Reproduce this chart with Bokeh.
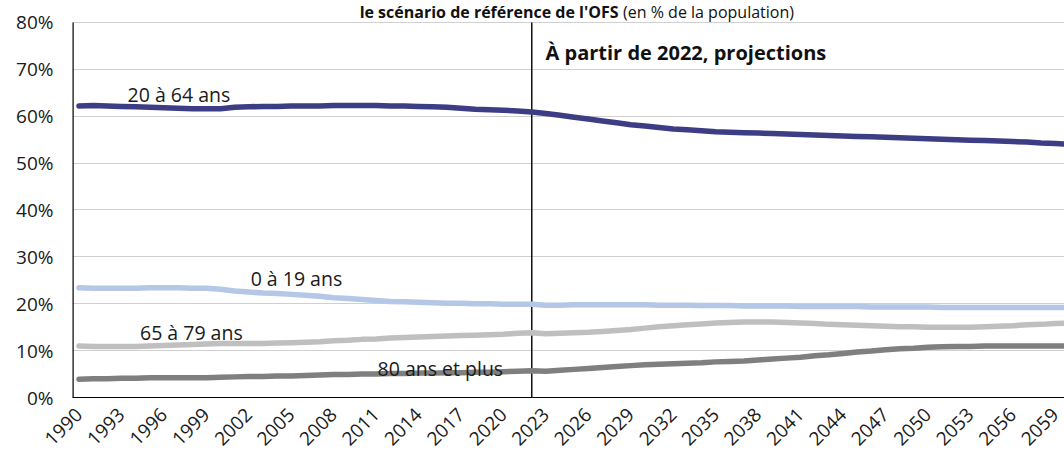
from bokeh.plotting import figure
from bokeh.models import Label, FixedTicker, PrintfTickFormatter, Range1d
from bokeh.embed import file_html
from bokeh.resources import INLINE

# Years 1990-2060 (observed up to 2021, OFS reference scenario afterwards)
years = list(range(1990, 2061))

age_20_64 = [
    62.2, 62.3, 62.2, 62.1, 62.0, 61.9, 61.8, 61.7, 61.6, 61.6,
    61.6, 61.9, 62.0, 62.1, 62.1, 62.2, 62.2, 62.2, 62.3, 62.3,
    62.3, 62.3, 62.2, 62.2, 62.1, 62.0, 61.9, 61.7, 61.5, 61.4,
    61.3, 61.1, 60.9, 60.6, 60.2, 59.8, 59.4, 59.0, 58.6, 58.2,
    57.9, 57.6, 57.3, 57.1, 56.9, 56.7, 56.6, 56.5, 56.4, 56.3,
    56.2, 56.1, 56.0, 55.9, 55.8, 55.7, 55.6, 55.5, 55.4, 55.3,
    55.2, 55.1, 55.0, 54.9, 54.8, 54.7, 54.6, 54.5, 54.3, 54.2,
    54.0,
]
age_0_19 = [
    23.4, 23.3, 23.3, 23.3, 23.3, 23.4, 23.4, 23.4, 23.3, 23.3,
    23.1, 22.7, 22.5, 22.3, 22.2, 22.0, 21.8, 21.6, 21.3, 21.1,
    20.9, 20.7, 20.5, 20.4, 20.3, 20.2, 20.1, 20.1, 20.0, 20.0,
    19.9, 19.9, 19.9, 19.7, 19.7, 19.8, 19.8, 19.8, 19.8, 19.8,
    19.8, 19.7, 19.7, 19.7, 19.6, 19.6, 19.6, 19.5, 19.5, 19.5,
    19.5, 19.4, 19.4, 19.4, 19.4, 19.4, 19.3, 19.3, 19.3, 19.3,
    19.3, 19.2, 19.2, 19.2, 19.2, 19.2, 19.2, 19.2, 19.2, 19.2,
    19.2,
]
age_65_79 = [
    11.0, 10.9, 10.9, 10.9, 10.9, 11.0, 11.1, 11.2, 11.3, 11.4,
    11.5, 11.5, 11.5, 11.5, 11.6, 11.7, 11.8, 11.9, 12.1, 12.2,
    12.4, 12.5, 12.7, 12.8, 12.9, 13.0, 13.1, 13.2, 13.3, 13.4,
    13.5, 13.7, 13.8, 13.6, 13.7, 13.8, 13.9, 14.1, 14.3, 14.5,
    14.8, 15.1, 15.3, 15.5, 15.7, 15.9, 16.0, 16.1, 16.1, 16.1,
    16.0, 15.9, 15.8, 15.6, 15.5, 15.4, 15.3, 15.2, 15.1, 15.1,
    15.0, 15.0, 15.0, 15.0, 15.1, 15.2, 15.3, 15.5, 15.6, 15.8,
    15.9,
]
age_80_plus = [
    3.9, 4.0, 4.0, 4.1, 4.1, 4.2, 4.2, 4.2, 4.2, 4.2,
    4.3, 4.4, 4.5, 4.5, 4.6, 4.6, 4.7, 4.8, 4.9, 4.9,
    5.0, 5.0, 5.1, 5.1, 5.2, 5.2, 5.3, 5.3, 5.4, 5.4,
    5.5, 5.6, 5.7, 5.6, 5.8, 6.0, 6.2, 6.4, 6.6, 6.8,
    7.0, 7.1, 7.2, 7.3, 7.4, 7.6, 7.7, 7.8, 8.0, 8.2,
    8.4, 8.6, 8.9, 9.1, 9.4, 9.7, 9.9, 10.2, 10.4, 10.5,
    10.7, 10.8, 10.9, 10.9, 11.0, 11.0, 11.0, 11.0, 11.0, 11.0,
    11.0,
]

series_names = ["20 à 64 ans", "0 à 19 ans", "65 à 79 ans", "80 ans et plus"]
series_colors = ["#3D3D85", "#B4C7E7", "#BFBFBF", "#7F7F7F"]

x_tick_years = list(range(1990, 2060, 3))
y_ticks = [0, 10, 20, 30, 40, 50, 60, 70, 80]
y_max = 80
projection_start = 2022

title_bold = "le scénario de référence de l'OFS"
title_rest = "(en % de la population)"
projection_note = "À partir de 2022, projections"

FONT = "Open Sans"
TEXT = "#1A1A1A"

X0, X1 = 1989.54, 2059.65
# the frame reaches the top of the canvas so the heading band is drawable;
# the value scale itself stops at 80 %
p = figure(
    width=1064, height=455,
    output_backend="svg", toolbar_location=None,
    x_range=Range1d(X0, X1), y_range=Range1d(0, 84.69),
    min_border_left=72, min_border_right=0,
    min_border_top=0, min_border_bottom=58,
)
p.outline_line_color = None
p.background_fill_color = "white"
p.border_fill_color = "white"

# Gridlines
p.xgrid.grid_line_color = None
p.ygrid.grid_line_color = "#D0D0D0"
p.ygrid.grid_line_width = 1.2

# Y axis (its line is drawn separately so that it ends at 80 %)
p.yaxis.ticker = FixedTicker(ticks=y_ticks)
p.yaxis.formatter = PrintfTickFormatter(format="%d%%")
p.yaxis.axis_line_color = None
p.yaxis.major_tick_line_color = None
p.yaxis.minor_tick_line_color = None
p.yaxis.major_tick_in = 0
p.yaxis.major_tick_out = 0
p.yaxis.major_label_standoff = 19
p.yaxis.major_label_text_font = FONT
p.yaxis.major_label_text_font_size = "19px"
p.yaxis.major_label_text_color = TEXT

# X axis
p.xaxis.ticker = FixedTicker(ticks=x_tick_years)
p.xaxis.axis_line_color = "black"
p.xaxis.axis_line_width = 1.2
p.xaxis.major_tick_line_color = None
p.xaxis.minor_tick_line_color = None
p.xaxis.major_tick_in = 0
p.xaxis.major_tick_out = 0
p.xaxis.major_label_standoff = 14
p.xaxis.major_label_orientation = 0.785398
p.xaxis.major_label_text_font = FONT
p.xaxis.major_label_text_font_size = "19px"
p.xaxis.major_label_text_color = TEXT

# Left value axis line and the projection marker, both from 0 to 80 %
p.segment(x0=[X0], y0=[0], x1=[X0], y1=[y_max], line_color="black", line_width=2.4)
p.segment(x0=[projection_start], y0=[0], x1=[projection_start], y1=[y_max],
          line_color="black", line_width=1.4)

# Series lines
for vals, col in zip([age_20_64, age_0_19, age_65_79, age_80_plus], series_colors):
    p.line(years, vals, line_color=col, line_width=5.5,
           line_join="round", line_cap="round")

# Series labels
label_pos = [(1993.43, 64.64), (2002.13, 25.28), (1994.31, 13.78), (2011.1, 6.23)]
for name, (lx, ly) in zip(series_names, label_pos):
    p.add_layout(Label(x=lx, y=ly, text=name, text_font=FONT,
                       text_font_size="19.5px", text_color=TEXT,
                       text_baseline="middle", text_align="left"))

p.add_layout(Label(x=2022.97, y=73.67, text=projection_note, text_font=FONT,
                   text_font_size="20px", text_font_style="bold",
                   text_color="#111111", text_baseline="middle",
                   text_align="left"))

# Chart heading in the band above the plot area
p.add_layout(Label(x=2028.13, y=82.3, text=title_bold, text_font=FONT,
                   text_font_size="16px", text_font_style="bold",
                   text_color="#111111", text_baseline="middle",
                   text_align="right"))
p.add_layout(Label(x=2028.45, y=82.3, text=title_rest, text_font=FONT,
                   text_font_size="16px", text_color="#111111",
                   text_baseline="middle", text_align="left"))

open("out.html", "w").write(file_html(p, INLINE))
